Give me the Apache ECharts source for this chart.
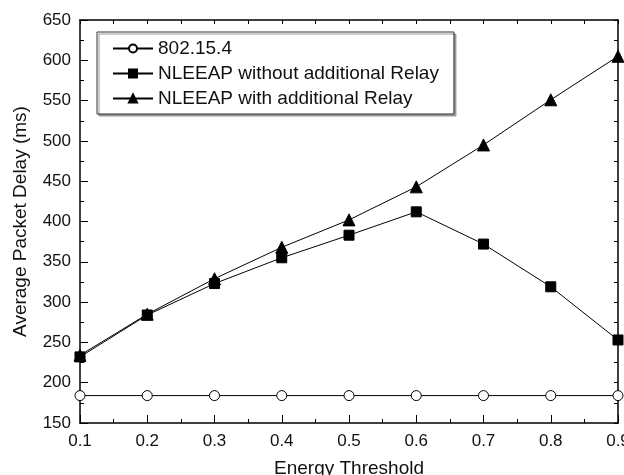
<!DOCTYPE html>
<html><head><meta charset="utf-8">
<script src="https://cdn.jsdelivr.net/npm/echarts@6/dist/echarts.min.js"></script>
<style>html,body{margin:0;padding:0;background:#fff}#c{width:624px;height:475px}</style>
</head><body><div id="c"></div>
<script>
const thresholds = [0.1, 0.2, 0.3, 0.4, 0.5, 0.6, 0.7, 0.8, 0.9];
const ieee802154 = [184, 184, 184, 184, 184, 184, 184, 184, 184];
const withoutRelay = [232, 284, 323, 355, 383, 412, 372, 319, 253];
const withRelay = [234, 285, 329, 368, 402, 443, 495, 551, 605];
const seriesNames = ['802.15.4', 'NLEEAP without additional Relay', 'NLEEAP with additional Relay'];

const FONT = '"Liberation Sans", Arial, sans-serif';
const pairs = arr => thresholds.map((x, i) => [x, arr[i]]);

const chart = echarts.init(document.getElementById('c'), null, {renderer: 'canvas'});
const axisLine = {show: true, onZero: false, lineStyle: {color: '#000', width: 1.5}};
const mk = (name, data, symbol, size, fill) => ({
  name, type: 'line', data: pairs(data), symbol, symbolSize: size,
  lineStyle: {color: '#000', width: 1}, clip: false,
  itemStyle: {color: fill, borderColor: '#000', borderWidth: 1},
  emphasis: {disabled: true}, animation: false
});
chart.setOption({
  animation: false,
  grid: {left: 80, right: 6, top: 20, bottom: 52, containLabel: false, outerBoundsMode: 'none'},
  legend: {
    orient: 'vertical', left: 97, top: 32,
    padding: [7, 15, 6, 15], itemGap: 6, itemWidth: 40, itemHeight: 10,
    backgroundColor: '#fff', borderColor: '#333', borderWidth: 1,
    shadowColor: '#999', shadowOffsetX: 2, shadowOffsetY: 2, shadowBlur: 0,
    textStyle: {fontFamily: FONT, fontSize: 19, color: '#111'},
    data: seriesNames
  },
  xAxis: [{
    type: 'value', min: 0.1, max: 0.9, interval: 0.1,
    name: 'Energy Threshold', nameLocation: 'middle', nameGap: 36,
    nameTextStyle: {fontFamily: FONT, fontSize: 19, color: '#111'},
    axisLine, splitLine: {show: false},
    axisTick: {inside: true, length: 8, lineStyle: {color: '#000'}},
    minorTick: {show: true, splitNumber: 2, length: 4, lineStyle: {color: '#000'}},
    axisLabel: {fontFamily: FONT, fontSize: 17, color: '#111', margin: 10, formatter: v => v.toFixed(1)}
  }, {
    type: 'value', position: 'top', min: 0.1, max: 0.9, interval: 0.1,
    axisLine, splitLine: {show: false},
    axisTick: {inside: true, length: 4, lineStyle: {color: '#000'}},
    minorTick: {show: true, splitNumber: 2, length: 4, lineStyle: {color: '#000'}},
    axisLabel: {show: false}
  }],
  yAxis: [{
    type: 'value', min: 150, max: 650, interval: 50,
    name: 'Average Packet Delay (ms)', nameLocation: 'middle', nameGap: 50,
    nameTextStyle: {fontFamily: FONT, fontSize: 19, color: '#111'},
    axisLine, splitLine: {show: false},
    axisTick: {inside: true, length: 8, lineStyle: {color: '#000'}},
    minorTick: {show: true, splitNumber: 2, length: 4, lineStyle: {color: '#000'}},
    axisLabel: {fontFamily: FONT, fontSize: 17, color: '#111', margin: 9}
  }, {
    type: 'value', position: 'right', min: 150, max: 650, interval: 50,
    axisLine, splitLine: {show: false},
    axisTick: {inside: true, length: 4, lineStyle: {color: '#000'}},
    minorTick: {show: true, splitNumber: 2, length: 4, lineStyle: {color: '#000'}},
    axisLabel: {show: false}
  }],
  series: [
    mk(seriesNames[0], ieee802154, 'circle', 10, '#fff'),
    mk(seriesNames[1], withoutRelay, 'rect', 10, '#000'),
    mk(seriesNames[2], withRelay, 'triangle', 12, '#000')
  ]
});
</script></body></html>
